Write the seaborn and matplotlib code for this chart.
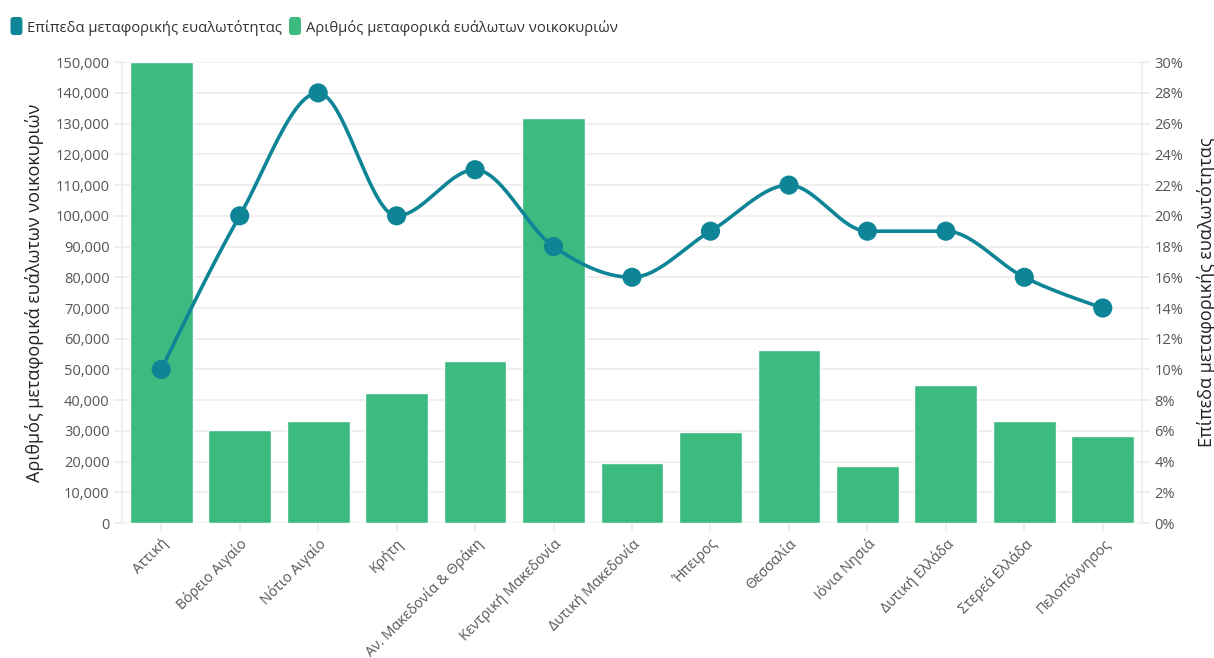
import numpy as np
import pandas as pd
import matplotlib
matplotlib.use("Agg")
import matplotlib.pyplot as plt
import seaborn as sns
from matplotlib.patches import FancyBboxPatch, Patch
from matplotlib.legend_handler import HandlerPatch
from matplotlib.ticker import FuncFormatter, MultipleLocator

regions = ["Αττική", "Βόρειο Αιγαίο", "Νότιο Αιγαίο", "Κρήτη", "Αν. Μακεδονία & Θράκη",
           "Κεντρική Μακεδονία", "Δυτική Μακεδονία", "Ήπειρος", "Θεσσαλία", "Ιόνια Νησιά",
           "Δυτική Ελλάδα", "Στερεά Ελλάδα", "Πελοπόννησος"]
households = [150000, 30300, 33300, 42300, 52700, 131800, 19500, 29700, 56200, 18600,
              45100, 33300, 28400]
vuln_pct = [10, 20, 28, 20, 23, 18, 16, 19, 22, 19, 19, 16, 14]

bar_label = "Αριθμός μεταφορικά ευάλωτων νοικοκυριών"
line_label = "Επίπεδα μεταφορικής ευαλωτότητας"

BAR_C = "#3cba7f"
LINE_C = "#0e8596"
GRID_C = "#ececec"
TXT_C = "#555555"

sns.set_theme(style="white")
plt.rcParams["font.family"] = ["Open Sans", "DejaVu Sans"]

df = pd.DataFrame({"region": regions, "households": households, "pct": vuln_pct})

fig = plt.figure(figsize=(12.14, 6.58), dpi=100)
ax = fig.add_axes([0.1005, 0.205, 0.8402, 0.7005])

sns.barplot(data=df, x="region", y="households", color=BAR_C, width=0.8,
            saturation=1, ax=ax, zorder=2)
ax.set_ylim(0, 150000)
ax.set_xlim(-0.5, len(regions) - 0.5)
ax.yaxis.set_major_locator(MultipleLocator(10000))
ax.yaxis.set_major_formatter(FuncFormatter(lambda v, p: f"{int(v):,}"))
ax.grid(axis="y", color=GRID_C, lw=1.2, zorder=0)
ax.set_axisbelow(True)
for s in ["top", "bottom"]:
    ax.spines[s].set_visible(False)
for s in ["left", "right"]:
    ax.spines[s].set_color(GRID_C)
    ax.spines[s].set_linewidth(1.2)
ax.tick_params(axis="y", length=6, color=GRID_C, labelsize=10.5, labelcolor=TXT_C, pad=3)
ax.tick_params(axis="x", length=6, color=GRID_C, labelsize=10.2, labelcolor=TXT_C, bottom=True)
ax.set_xlabel("")
ax.set_ylabel(bar_label, fontsize=13, color="#222222", labelpad=8)
plt.setp(ax.get_xticklabels(), rotation=45, ha="right", rotation_mode="anchor")

ax2 = ax.twinx()
ax2.set_ylim(0, 30)
ax2.yaxis.set_major_locator(MultipleLocator(2))
ax2.yaxis.set_major_formatter(FuncFormatter(lambda v, p: f"{int(v)}%"))
for s in ax2.spines.values():
    s.set_visible(False)
ax2.tick_params(axis="y", length=6, color=GRID_C, labelsize=10.5, labelcolor=TXT_C, pad=3)
ax2.set_ylabel(line_label, fontsize=13, color="#222222", rotation=90, labelpad=10)

# monotone-x smooth curve (like d3.curveMonotoneX) through the points
x = np.arange(len(vuln_pct), dtype=float)
y = np.array(vuln_pct, dtype=float)
n = len(x)
h = np.diff(x)
d = np.diff(y) / h
m = np.zeros(n)
for i in range(1, n - 1):
    if d[i - 1] * d[i] <= 0:
        m[i] = 0
    else:
        p = (d[i - 1] * h[i] + d[i] * h[i - 1]) / (h[i - 1] + h[i])
        m[i] = np.sign(d[i - 1]) * min(abs(d[i - 1]), abs(d[i]), 0.5 * abs(p)) * 2
m[0] = (3 * d[0] - m[1]) / 2
m[-1] = (3 * d[-1] - m[-2]) / 2
xs, ys = [], []
for i in range(n - 1):
    t = np.linspace(0, 1, 30)
    h00 = 2 * t**3 - 3 * t**2 + 1
    h10 = t**3 - 2 * t**2 + t
    h01 = -2 * t**3 + 3 * t**2
    h11 = t**3 - t**2
    xs.extend(x[i] + t * h[i])
    ys.extend(h00 * y[i] + h10 * h[i] * m[i] + h01 * y[i + 1] + h11 * h[i] * m[i + 1])
ax2.plot(xs, ys, color=LINE_C, lw=2.6, zorder=3, solid_capstyle="round")
sns.scatterplot(x=x, y=y, color=LINE_C, s=190, edgecolor="none", ax=ax2, zorder=4, legend=False)
ax2.set_xlim(-0.5, len(regions) - 0.5)


class RoundHandler(HandlerPatch):
    def create_artists(self, legend, orig_handle, xdescent, ydescent, width, height, fontsize, trans):
        p = FancyBboxPatch((-xdescent, -ydescent - 2.5), 8.6, 13,
                           boxstyle="round,pad=0,rounding_size=2.2",
                           facecolor=orig_handle.get_facecolor(), edgecolor="none", transform=trans)
        return [p]


handles = [Patch(facecolor=LINE_C), Patch(facecolor=BAR_C)]
fig.legend(handles, [line_label, bar_label], loc="upper left", bbox_to_anchor=(0.005, 0.977),
           ncol=2, frameon=False, fontsize=10.6, handlelength=0.85, handletextpad=0.3,
           columnspacing=0.45, labelcolor="#333333",
           handler_map={Patch: RoundHandler()}, borderaxespad=0.0, borderpad=0.3)

fig.savefig("out.png", dpi=100, facecolor="white")
